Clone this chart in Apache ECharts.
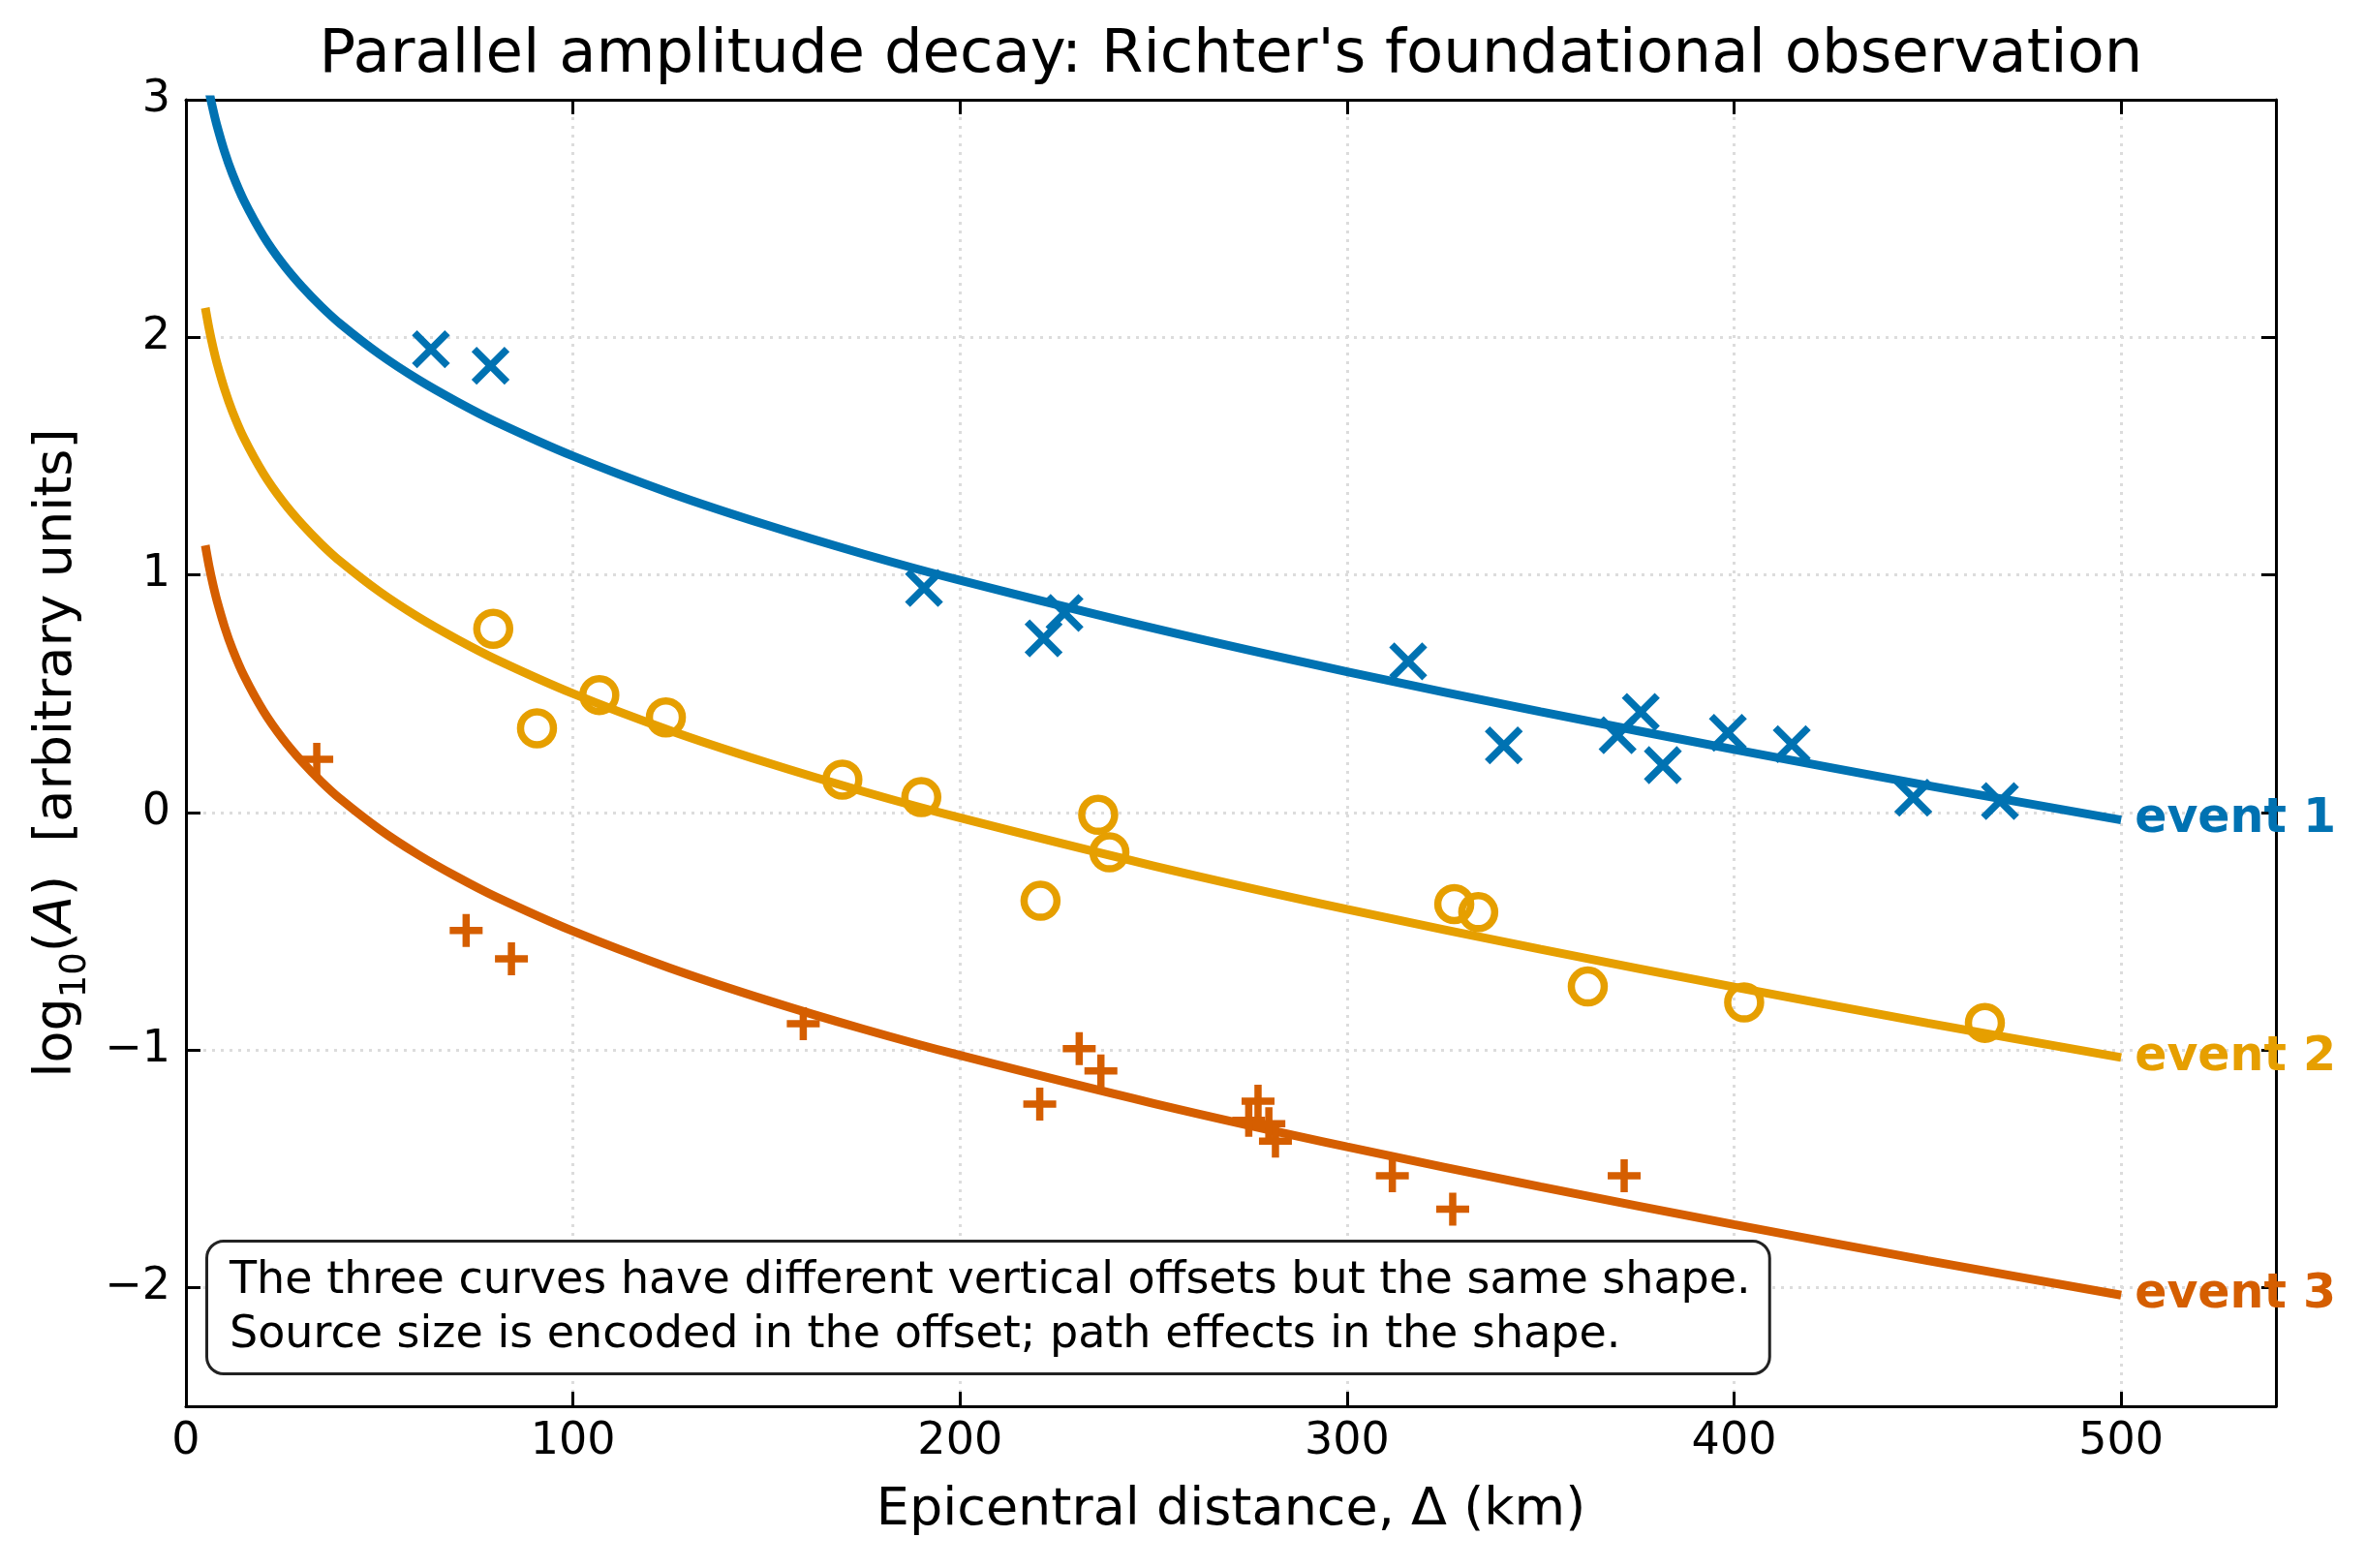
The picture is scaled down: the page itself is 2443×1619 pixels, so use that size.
<!DOCTYPE html>
<html>
<head>
<meta charset="utf-8">
<title>Parallel amplitude decay</title>
<script src="https://cdn.jsdelivr.net/npm/echarts@6.0.0/dist/echarts.min.js"></script>
<style>
  html, body { margin: 0; padding: 0; background: #fff; }
  #chart { width: 2443px; height: 1619px; }
</style>
</head>
<body>
<div id="chart"></div>
<script>
// model curves, distance in km
const curveDist = [5, 6, 7, 8, 10, 12, 15, 20, 25, 30, 35, 40, 50, 60, 70, 80, 100, 125, 150, 175, 200, 250, 300, 350, 400, 450, 500]
const curve1 = [3.124, 3.034, 2.958, 2.892, 2.780, 2.688, 2.575, 2.427, 2.310, 2.213, 2.129, 2.055, 1.929, 1.822, 1.729, 1.645, 1.500, 1.345, 1.210, 1.088, 0.977, 0.775, 0.592, 0.424, 0.265, 0.113, -0.032]
const curve2 = [2.124, 2.034, 1.958, 1.892, 1.780, 1.688, 1.575, 1.427, 1.310, 1.213, 1.129, 1.055, 0.929, 0.822, 0.729, 0.645, 0.500, 0.345, 0.210, 0.088, -0.023, -0.225, -0.408, -0.576, -0.735, -0.887, -1.032]
const curve3 = [1.124, 1.034, 0.958, 0.892, 0.780, 0.688, 0.575, 0.427, 0.310, 0.213, 0.129, 0.055, -0.071, -0.178, -0.271, -0.355, -0.500, -0.655, -0.790, -0.912, -1.023, -1.225, -1.408, -1.576, -1.735, -1.887, -2.032]

// station observations [distance, log10 A]
const obs1 = [[63.3, 1.95], [78.7, 1.88], [190.7, 0.945], [221.6, 0.733], [227.0, 0.84], [315.8, 0.636], [340.5, 0.282], [369.9, 0.325], [375.9, 0.423], [381.6, 0.199], [398.4, 0.335], [414.9, 0.287], [446.3, 0.062], [468.7, 0.048]]
const obs2 = [[79.4, 0.773], [90.7, 0.354], [106.8, 0.494], [124.0, 0.40], [169.6, 0.138], [190.0, 0.064], [220.8, -0.372], [235.7, -0.01], [238.6, -0.168], [327.7, -0.386], [333.9, -0.42], [362.2, -0.733], [402.6, -0.80], [464.8, -0.886]]
const obs3 = [[33.8, 0.223], [72.4, -0.497], [84.1, -0.616], [159.5, -0.89], [220.6, -1.228], [230.8, -0.995], [236.4, -1.088], [274.6, -1.296], [277.0, -1.216], [279.8, -1.31], [281.5, -1.384], [311.7, -1.53], [327.3, -1.67], [371.6, -1.53]]

const eventNames = ['event 1', 'event 2', 'event 3']
const colors = ['#0072B2', '#E69F00', '#D55E00']

const FONT = 'DejaVu Sans'
const titleText = "Parallel amplitude decay: Richter's foundational observation"
const noteText = 'The three curves have different vertical offsets but the same shape.\nSource size is encoded in the offset; path effects in the shape.'

function pairs(xs, ys) {
	return xs.map((x, i) => [x, ys[i]])
}

function frameAxis(extra) {
	return Object.assign({
		type: 'value',
		axisLine: { show: true, onZero: false, lineStyle: { color: '#000', width: 3 } },
		axisTick: { show: true, inside: true, length: 15, lineStyle: { color: '#000', width: 3 } },
		axisLabel: { show: false },
		splitLine: { show: false },
	}, extra)
}

const xBase = { min: 0, max: 540, splitNumber: 5 }
const yBase = { min: -2.5, max: 3, splitNumber: 5 }
const gridLine = {
	show: true,
	lineStyle: { color: '#dcdcdc', width: 3, type: [3, 6] },
}

function curveSeries(i, ys) {
	return {
		name: eventNames[i],
		type: 'line',
		data: pairs(curveDist, ys),
		showSymbol: false,
		smooth: 0.3,
		lineStyle: { color: colors[i], width: 9 },
		itemStyle: { color: colors[i] },
		z: 3,
		endLabel: {
			show: true,
			formatter: eventNames[i],
			color: colors[i],
			fontFamily: FONT,
			fontWeight: 'bold',
			fontSize: 49,
			distance: 14,
		},
	}
}

function obsSeries(i, data, symbol, size, bw) {
	return {
		name: eventNames[i] + ' obs',
		type: 'scatter',
		data: data,
		symbol: symbol,
		symbolSize: size,
		itemStyle: { color: 'rgba(0,0,0,0)', borderColor: colors[i], borderWidth: bw, opacity: 1 },
		z: 4,
	}
}

let chart = echarts.init(document.getElementById('chart'), null, { renderer: 'canvas' })
let option = {
	animation: false,
	backgroundColor: '#fff',
	textStyle: { fontFamily: FONT },
	grid: { left: 192, right: 93, top: 103, bottom: 167, outerBoundsMode: 'none' },
	xAxis: [
		frameAxis(Object.assign({}, xBase, {
			position: 'bottom',
			name: 'Epicentral distance, Δ (km)',
			nameLocation: 'middle',
			nameGap: 81,
			nameTextStyle: { fontFamily: FONT, fontSize: 54, color: '#000' },
			axisLabel: {
				show: true,
				margin: 14,
				fontFamily: FONT,
				fontSize: 46,
				color: '#000',
				formatter: v => (v % 100 === 0 ? String(v) : ''),
			},
			splitLine: gridLine,
		})),
		frameAxis(Object.assign({}, xBase, { position: 'top' })),
	],
	yAxis: [
		frameAxis(Object.assign({}, yBase, {
			position: 'left',
			name: '{n|log}{s|10}{n|(}{i|A}{n|)  [arbitrary units]}',
			nameLocation: 'middle',
			nameRotate: 90,
			nameGap: 93,
			nameTextStyle: {
				color: '#000',
				rich: {
					n: { fontFamily: FONT, fontSize: 54, color: '#000' },
					i: { fontFamily: FONT, fontSize: 54, fontStyle: 'italic', color: '#000' },
					s: { fontFamily: FONT, fontSize: 37, color: '#000', padding: [40, 0, 0, 0] },
				},
			},
			axisLabel: {
				show: true,
				margin: 16,
				fontFamily: FONT,
				fontSize: 46,
				color: '#000',
				formatter: v => (Number.isInteger(v) ? String(v).replace('-', '\u2212') : ''),
			},
			splitLine: gridLine,
		})),
		frameAxis(Object.assign({}, yBase, { position: 'right' })),
	],
	series: [
		curveSeries(0, curve1),
		curveSeries(1, curve2),
		curveSeries(2, curve3),
		obsSeries(0, obs1, 'path://M0,0L10,10M10,0L0,10', 34, 7.5),
		obsSeries(1, obs2, 'circle', 34, 7.5),
		obsSeries(2, obs3, 'path://M5,0L5,10M0,5L10,5', 34, 7.5),
	],
	graphic: [
		{
			type: 'text',
			x: 1271,
			y: 58,
			style: {
				text: titleText,
				fontFamily: FONT,
				fontSize: 62.5,
				fill: '#000',
				align: 'center',
				verticalAlign: 'middle',
			},
		},
		{
			type: 'text',
			x: 215,
			y: 1283,
			z: 100,
			style: {
				text: noteText,
				fontFamily: FONT,
				fontSize: 46,
				lineHeight: 56,
				fill: '#000',
				align: 'left',
				verticalAlign: 'top',
				padding: [12, 18, 10, 22],
				backgroundColor: '#fff',
				borderColor: '#222',
				borderWidth: 3,
				borderRadius: 16,
			},
		},
	],
}
chart.setOption(option)
</script>
</body>
</html>
